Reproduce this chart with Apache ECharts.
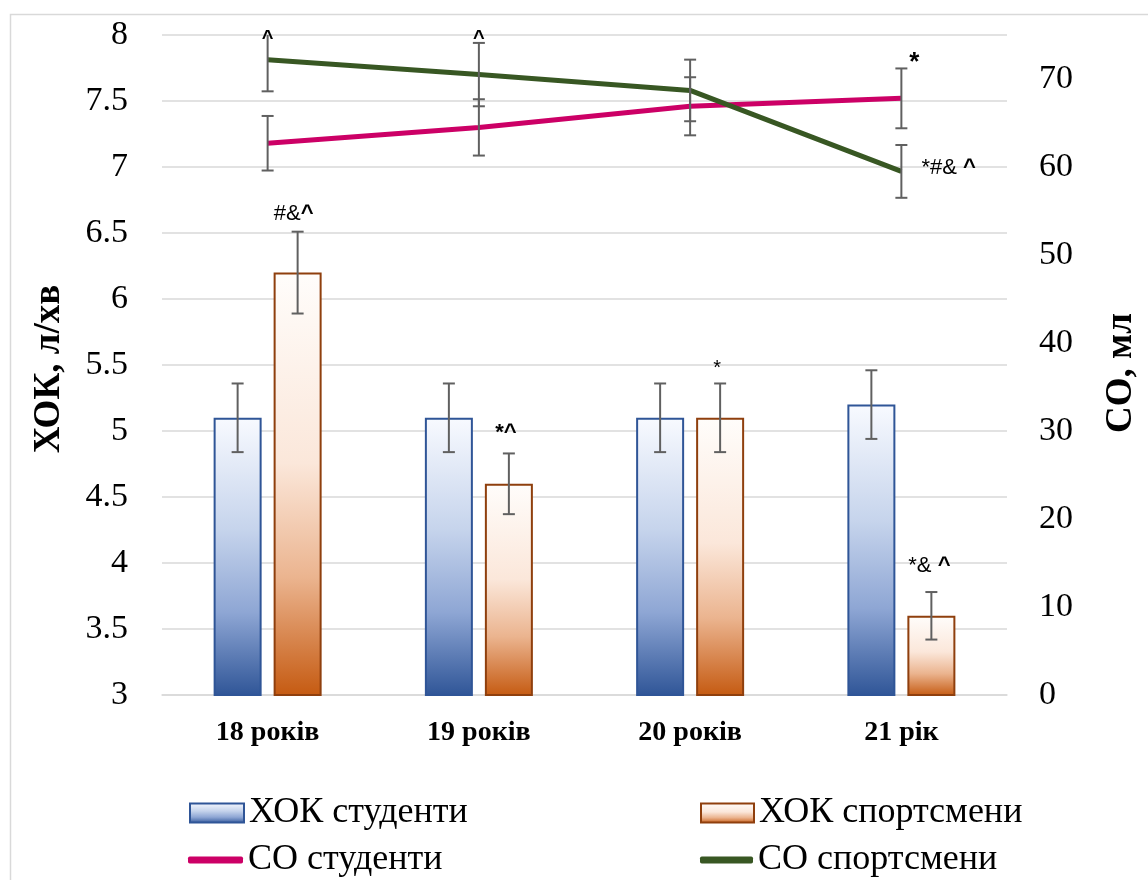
<!DOCTYPE html>
<html><head><meta charset="utf-8">
<script src="https://cdn.jsdelivr.net/npm/echarts@6/dist/echarts.min.js"></script>
<style>html,body{margin:0;padding:0;background:#fff}#c{width:1148px;height:880px}</style>
</head><body><div id="c"></div>
<script>
// ---- data ----
const categories = ['18 років', '19 років', '20 років', '21 рік'];
const hokStudents = [5.1, 5.1, 5.1, 5.2];
const hokStudentsErr = [0.26, 0.26, 0.26, 0.26];
const hokAthletes = [6.2, 4.6, 5.1, 3.6];
const hokAthletesErr = [0.31, 0.23, 0.26, 0.18];
const coStudents = [62.7, 64.5, 66.9, 67.8];
const coStudentsErr = [3.1, 3.2, 3.3, 3.4];
const coAthletes = [72.2, 70.5, 68.7, 59.5];
const coAthletesErr = [3.6, 3.6, 3.5, 3.0];
const seriesNames = ['ХОК студенти', 'ХОК спортсмени', 'СО студенти', 'СО спортсмени'];
const axisNames = ['ХОК, л/хв', 'СО, мл'];
const annotationTexts = ['{b|^}', '{b|^}', '{b|*}', '*#& {b|^}', '#&{b|^}', '{b|*^}', '*', '*& {b|^}'];

// ---- layout / style ----
const SERIF = 'Liberation Serif';
const SANS = 'Liberation Sans';
const BAR_OFFSET = 30;
const ERR_COLOR = '#606060';
const GRID = '#d9d9d9';
const refs = {
  hokS: {v: hokStudents, e: hokStudentsErr, axis: 0, off: -BAR_OFFSET},
  hokA: {v: hokAthletes, e: hokAthletesErr, axis: 0, off: BAR_OFFSET},
  coS: {v: coStudents, e: coStudentsErr, axis: 1, off: 0},
  coA: {v: coAthletes, e: coAthletesErr, axis: 1, off: 0}
};
const annotationLayout = [
  {ref: 'coA', i: 0, at: 'top', dx: 0, dy: 11, size: 20, align: 'center'},
  {ref: 'coA', i: 1, at: 'top', dx: 0, dy: -4, size: 20, align: 'center'},
  {ref: 'coS', i: 3, at: 'top', dx: 13, dy: -6, size: 26, align: 'center'},
  {ref: 'coA', i: 3, at: 'mid', dx: 20, dy: -3, size: 22, align: 'left'},
  {ref: 'hokA', i: 0, at: 'top', dx: -4, dy: -18, size: 22, align: 'center'},
  {ref: 'hokA', i: 1, at: 'top', dx: -3, dy: -21, size: 22, align: 'center'},
  {ref: 'hokA', i: 2, at: 'top', dx: -3, dy: -15, size: 20, align: 'center'},
  {ref: 'hokA', i: 3, at: 'top', dx: -2, dy: -26, size: 22, align: 'center'}
];

function grad(stops) {
  return new echarts.graphic.LinearGradient(0, 0, 0, 1, stops.map(s => ({offset: s[0], color: s[1]})));
}
const blueFill = grad([[0, '#f8faff'], [0.4, '#c6d4ec'], [0.7, '#8ea6d4'], [1, '#2f5597']]);
const orangeFill = grad([[0, '#fffdfb'], [0.45, '#fbe7da'], [0.72, '#ebb48f'], [1, '#c55a11']]);

function errSeries(key) {
  const r = refs[key];
  return {
    type: 'custom', yAxisIndex: r.axis, z: 10, silent: true, clip: true,
    encode: {x: 0, y: [1, 2]},
    data: r.v.map((v, i) => [i, v - r.e[i], v + r.e[i]]),
    renderItem(params, api) {
      const lo = api.coord([api.value(0), api.value(1)]);
      const hi = api.coord([api.value(0), api.value(2)]);
      const x = lo[0] + r.off, c = 6;
      const st = {stroke: ERR_COLOR, lineWidth: 2};
      return {type: 'group', children: [
        {type: 'line', shape: {x1: x, y1: lo[1], x2: x, y2: hi[1]}, style: st},
        {type: 'line', shape: {x1: x - c, y1: lo[1], x2: x + c, y2: lo[1]}, style: st},
        {type: 'line', shape: {x1: x - c, y1: hi[1], x2: x + c, y2: hi[1]}, style: st}
      ]};
    }
  };
}

function annSeries(axis) {
  const items = [];
  annotationLayout.forEach((a, k) => {
    const r = refs[a.ref];
    if (r.axis !== axis) return;
    const val = a.at === 'top' ? r.v[a.i] + r.e[a.i] : r.v[a.i];
    items.push({value: [a.i, val], k: k});
  });
  return {
    type: 'custom', yAxisIndex: axis, z: 12, silent: true, clip: false,
    encode: {x: 0, y: 1},
    data: items.map(d => d.value),
    renderItem(params, api) {
      const k = items[params.dataIndex].k;
      const a = annotationLayout[k];
      const r = refs[a.ref];
      const p = api.coord([api.value(0), api.value(1)]);
      return {type: 'text', x: p[0] + r.off + a.dx, y: p[1] + a.dy,
        style: {text: annotationTexts[k], fill: '#000', font: a.size + 'px ' + SANS,
          align: a.align, verticalAlign: 'middle',
          rich: {b: {fontWeight: 'bold', fontSize: a.size, fontFamily: SANS, fill: '#000'}}}};
    }
  };
}

const chart = echarts.init(document.getElementById('c'));
const legendCommon = {
  padding: 0, itemGap: 0, selectedMode: false,
  textStyle: {fontFamily: SERIF, fontSize: 36, color: '#000', padding: [0, 0, 0, 0]}
};
chart.setOption({
  animation: false,
  backgroundColor: '#fff',
  graphic: [{type: 'rect', left: 8, top: 12, shape: {width: 1400, height: 1000},
    style: {fill: 'none', stroke: GRID, lineWidth: 1.5}, silent: true}],
  grid: {left: 162, right: 140, top: 35, bottom: 185},
  legend: [
    Object.assign({data: [seriesNames[0]], left: 189, top: 795, itemWidth: 54, itemHeight: 19, icon: 'rect'}, legendCommon),
    Object.assign({data: [seriesNames[1]], left: 700, top: 795, itemWidth: 53, itemHeight: 19, icon: 'rect'}, legendCommon),
    Object.assign({data: [seriesNames[2]], left: 188, top: 842, itemWidth: 55, itemHeight: 7, icon: 'roundRect'}, legendCommon),
    Object.assign({data: [seriesNames[3]], left: 700, top: 842, itemWidth: 53, itemHeight: 7, icon: 'roundRect'}, legendCommon)
  ],
  xAxis: {
    type: 'category', data: categories,
    axisLine: {show: true, lineStyle: {color: GRID, width: 1.5}},
    axisTick: {show: false},
    axisLabel: {fontFamily: SERIF, fontWeight: 'bold', fontSize: 28, color: '#000', margin: 24}
  },
  yAxis: [
    {type: 'value', min: 3, max: 8, interval: 0.5,
      name: axisNames[0], nameLocation: 'middle', nameGap: 94, nameRotate: 90,
      nameTextStyle: {fontFamily: SERIF, fontWeight: 'bold', fontSize: 37, color: '#000', padding: [0, 8, 0, 0]},
      axisLine: {show: false}, axisTick: {show: false},
      splitLine: {lineStyle: {color: GRID, width: 1.5}},
      axisLabel: {fontFamily: SERIF, fontSize: 34, color: '#000', margin: 34}},
    {type: 'value', min: 0, max: 75, interval: 10,
      name: axisNames[1], nameLocation: 'middle', nameGap: 96, nameRotate: 90,
      nameTextStyle: {fontFamily: SERIF, fontWeight: 'bold', fontSize: 37, color: '#000', padding: [0, 16, 0, 0]},
      axisLine: {show: false}, axisTick: {show: false}, splitLine: {show: false},
      axisLabel: {fontFamily: SERIF, fontSize: 34, color: '#000', margin: 32,
        formatter: v => (v === 75 ? '' : String(v))}}
  ],
  series: [
    {name: seriesNames[0], type: 'bar', data: hokStudents, barWidth: 48, barGap: '25%',
      itemStyle: {color: blueFill, borderColor: '#2f5597', borderWidth: 2}},
    {name: seriesNames[1], type: 'bar', data: hokAthletes, barWidth: 48, barGap: '25%',
      itemStyle: {color: orangeFill, borderColor: '#8f3f0d', borderWidth: 2}},
    {name: seriesNames[2], type: 'line', yAxisIndex: 1, data: coStudents, symbol: 'none', z: 5,
      itemStyle: {color: '#cc0066'}, lineStyle: {color: '#cc0066', width: 5}},
    {name: seriesNames[3], type: 'line', yAxisIndex: 1, data: coAthletes, symbol: 'none', z: 5,
      itemStyle: {color: '#385723'}, lineStyle: {color: '#385723', width: 5}},
    errSeries('hokS'), errSeries('hokA'), errSeries('coS'), errSeries('coA'),
    annSeries(0), annSeries(1)
  ]
});
</script>
</body></html>
